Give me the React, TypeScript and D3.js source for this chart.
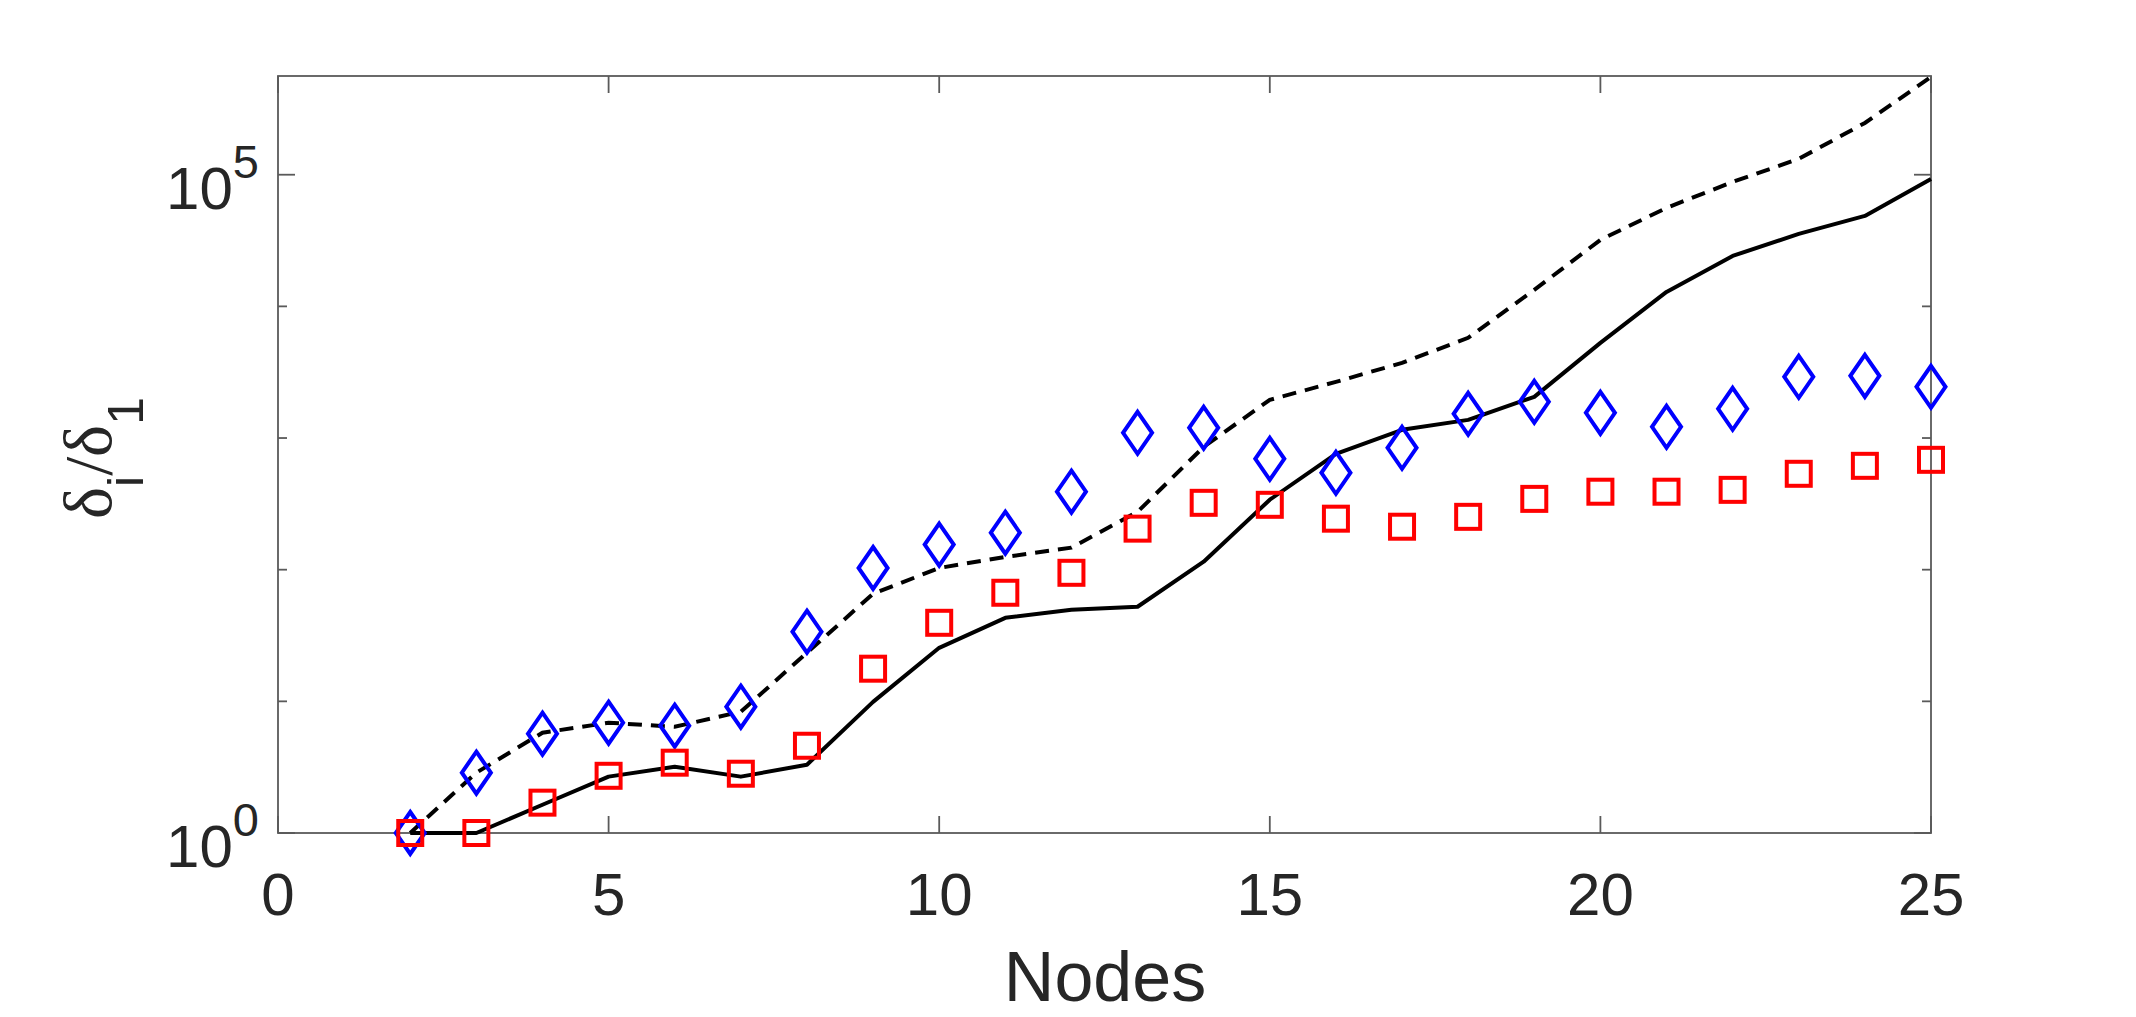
import React from 'react'
import * as d3 from 'd3'

// node counts on the x axis
const nodes = [2, 3, 4, 5, 6, 7, 8, 9, 10, 11, 12, 13, 14, 15, 16, 17, 18, 19, 20, 21, 22, 23, 24, 25]

// black solid curve
const solidLine = [1, 1, 1.64, 2.68, 3.19, 2.68, 3.3, 9.9, 25.5, 43.1, 49.6, 52.3, 115, 340, 759, 1154, 1374, 2055, 5284, 12880, 24160, 35550, 48640, 92900]
// black dashed curve
const dashedLine = [1, 2.87, 5.78, 6.88, 6.41, 8.34, 23.4, 65.6, 103, 125, 147, 275, 857, 1950, 2670, 3724, 5767, 13340, 32000, 55980, 88150, 131900, 247300, 553000]
// blue diamonds
const diamonds = [1, 2.87, 5.68, 6.88, 6.53, 9.1, 33.8, 103, 155, 191, 391, 1096, 1195, 695, 544, 843, 1527, 1883, 1553, 1217, 1667, 2917, 2966, 2448]
// red squares
const squares = [1, 1, 1.7, 2.72, 3.42, 2.82, 4.6, 17.7, 39.5, 66.8, 94.7, 205, 322, 311, 244, 212, 252, 345, 391, 391, 404, 535, 615, 683]

const xTicks = [0, 5, 10, 15, 20, 25]
const yMajorTicks = [1, 1e5]
const yMinorTicks = [10, 100, 1000, 10000]
const yDomain = [1, 562000]

const width = 2136
const height = 1017
const margin = { top: 76, right: 205, bottom: 184, left: 278 }
const textColor = '#262626'
const axisColor = '#5a5a5a'
const sans = '"Liberation Sans", Arial, Helvetica, sans-serif'

export default function App() {
  const x = d3.scaleLinear().domain([0, 25]).range([margin.left, width - margin.right])
  const y = d3.scaleLog().domain(yDomain).range([height - margin.bottom, margin.top])

  const x0 = margin.left
  const x1 = width - margin.right
  const y0 = height - margin.bottom
  const y1 = margin.top

  const line = d3.line<number>()
    .x((_, i) => x(nodes[i]))
    .y(d => y(d))

  const diamond = (cx: number, cy: number) => {
    const w = 14.5, h = 21
    return `M${cx},${cy - h}L${cx + w},${cy}L${cx},${cy + h}L${cx - w},${cy}Z`
  }

  return (
    <svg width={width} height={height} style={{ position: 'absolute', left: 0, top: 0, background: '#fff' }}>
      {/* box */}
      <rect x={x0} y={y1} width={x1 - x0} height={y0 - y1} fill="none" stroke={axisColor} strokeWidth={1.8} />

      {/* x ticks, bottom and top */}
      {xTicks.map(t => (
        <g key={'xt' + t}>
          <line x1={x(t)} x2={x(t)} y1={y0} y2={y0 - 17} stroke={axisColor} strokeWidth={1.8} />
          <line x1={x(t)} x2={x(t)} y1={y1} y2={y1 + 17} stroke={axisColor} strokeWidth={1.8} />
          <text x={x(t)} y={915} textAnchor="middle" fontFamily={sans} fontSize={60} fill={textColor}>{t}</text>
        </g>
      ))}

      {/* y ticks, left and right */}
      {yMajorTicks.map(t => (
        <g key={'ym' + t}>
          <line x1={x0} x2={x0 + 17} y1={y(t)} y2={y(t)} stroke={axisColor} strokeWidth={1.8} />
          <line x1={x1} x2={x1 - 17} y1={y(t)} y2={y(t)} stroke={axisColor} strokeWidth={1.8} />
          <text x={259} y={y(t) + 34} textAnchor="end" fontFamily={sans} fontSize={60} fill={textColor}>
            10<tspan fontSize={47} dy={-31}>{Math.round(Math.log10(t))}</tspan>
          </text>
        </g>
      ))}
      {yMinorTicks.map(t => (
        <g key={'yn' + t}>
          <line x1={x0} x2={x0 + 9} y1={y(t)} y2={y(t)} stroke={axisColor} strokeWidth={1.8} />
          <line x1={x1} x2={x1 - 9} y1={y(t)} y2={y(t)} stroke={axisColor} strokeWidth={1.8} />
        </g>
      ))}

      {/* axis labels */}
      <text x={1105} y={1001} textAnchor="middle" fontFamily={sans} fontSize={70} fill={textColor}>Nodes</text>
      <text transform="translate(111,458) rotate(-90)" textAnchor="middle" fill={textColor}>
        <tspan fontFamily='"Liberation Serif", "Times New Roman", serif' fontSize={68}>δ</tspan>
        <tspan fontFamily={sans} fontSize={50} dy={32}>i</tspan>
        <tspan fontFamily='"Liberation Serif", "Times New Roman", serif' fontSize={68} dy={-32}>/δ</tspan>
        <tspan fontFamily={sans} fontSize={50} dy={32}>1</tspan>
      </text>

      {/* curves */}
      <path d={line(solidLine) || ''} fill="none" stroke="#000" strokeWidth={4} strokeLinejoin="round" />
      <path d={line(dashedLine) || ''} fill="none" stroke="#000" strokeWidth={4} strokeDasharray="14 9" />

      {/* markers */}
      {diamonds.map((v, i) => (
        <path key={'d' + i} d={diamond(x(nodes[i]), y(v))} fill="none" stroke="#0000ff" strokeWidth={4} />
      ))}
      {squares.map((v, i) => (
        <rect key={'s' + i} x={x(nodes[i]) - 12} y={y(v) - 12} width={24} height={24} fill="none" stroke="#ff0000" strokeWidth={4} />
      ))}
    </svg>
  )
}
